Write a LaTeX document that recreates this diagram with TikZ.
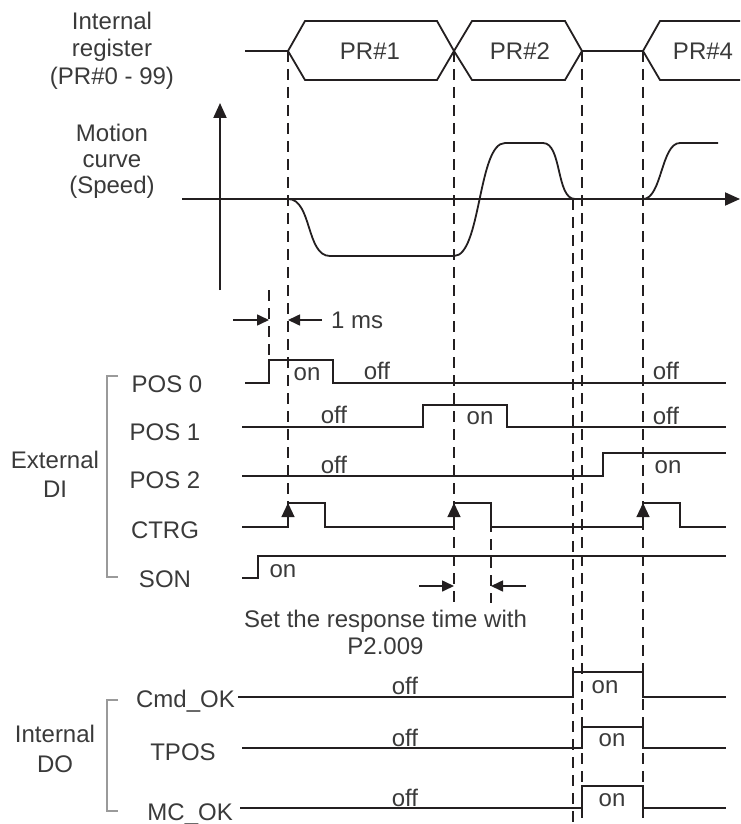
\documentclass[tikz,border=0pt]{standalone}
\usepackage{fontspec}
\setmainfont{Liberation Sans}
\usetikzlibrary{arrows.meta}
\definecolor{ink}{HTML}{231F20}
\definecolor{txt}{HTML}{3A3A3A}
\definecolor{brk}{HTML}{9A9A9A}
\begin{document}
\begin{tikzpicture}[x=1pt,y=-1pt,
  sig/.style={draw=ink,line width=1.8pt,line join=miter},
  dsh/.style={draw=ink,line width=1.6pt,dash pattern=on 11pt off 7pt},
  lbl/.style={text=txt,font=\fontsize{24}{27.6}\selectfont,inner sep=0pt,anchor=base},
  brace/.style={draw=brk,line width=1.4pt},
  axisarrow/.style={draw=ink,line width=2pt,-{Triangle[length=15pt,width=13pt]}},
  dimarrow/.style={draw=ink,line width=1.6pt,-{Triangle[length=12pt,width=11pt]}},
  trig/.style={draw=ink,line width=1.2pt,-{Triangle[length=14pt,width=13pt]}},
]
\useasboundingbox (0,0) rectangle (740,824);

% ---------- left labels ----------
\node[lbl] (ir1) at (112,30) {Internal};
\node[lbl] (ir2) at (112,57) {register};
\node[lbl] (ir3) at (112,85) {(PR\#0 - 99)};
\node[lbl] (mc1) at (112,141) {Motion};
\node[lbl] (mc2) at (112,167) {curve};
\node[lbl] (mc3) at (112,193) {(Speed)};

% ---------- PR bus ----------
\draw[sig] (245,51) -- (288,51);
\draw[sig] (288,51) -- (305,21) -- (437,21) -- (454,51) -- (437,80) -- (305,80) -- cycle;
\draw[sig] (454,51) -- (472,21) -- (565,21) -- (582,51) -- (565,80) -- (472,80) -- cycle;
\draw[sig] (582,51) -- (643,51);
\draw[sig] (740,21) -- (660,21) -- (643,51) -- (660,80) -- (740,80);
\node[lbl] (pr1) at (370,59.5) {PR\#1};
\node[lbl] (pr2) at (520,59.5) {PR\#2};
\node[lbl] (pr4) at (703,59.5) {PR\#4};

% ---------- motion axes and curve ----------
\draw[axisarrow] (220,290) -- (220,103);
\draw[axisarrow] (182,199) -- (740,199);
\draw[sig] (220,199) -- (288,199)
  .. controls (312,199) and (306,256) .. (330,256) -- (454,256)
  .. controls (481,256) and (478,143) .. (505,143) -- (543,143)
  .. controls (562,143) and (556,199) .. (575,199) -- (643,199)
  .. controls (662,199) and (661,143) .. (680,143) -- (718,143);

% ---------- dashed guides ----------
\draw[dsh] (288,51) -- (288,503);
\draw[dsh] (269,290) -- (269,360);
\draw[dsh] (454,51) -- (454,603);
\draw[dsh] (491,503) -- (491,603);
\draw[dsh] (573,199) -- (573,824);
\draw[dsh] (582,51) -- (582,824);
\draw[dsh] (643,51) -- (643,824);

% ---------- 1 ms ----------
\draw[dimarrow] (233,320) -- (269,320);
\draw[dimarrow] (322,320) -- (288,320);
\node[lbl,anchor=base west] (ms) at (331,328) {1 ms};

% ---------- external DI ----------
\draw[brace] (118,376) -- (107,376) -- (107,577) -- (118,577);
\node[lbl] (ext1) at (55,468) {External};
\node[lbl] (ext2) at (55,497) {DI};
\node[lbl] (p0) at (167,392) {POS 0};
\node[lbl] (p1) at (165,440) {POS 1};
\node[lbl] (p2) at (165,488) {POS 2};
\node[lbl] (ctrg) at (165,538) {CTRG};
\node[lbl] (son) at (165,587) {SON};

\draw[sig] (245,383) -- (269,383) -- (269,360) -- (333,360) -- (333,383) -- (726,383);
\draw[sig] (242,427) -- (423,427) -- (423,405) -- (507,405) -- (507,427) -- (726,427);
\draw[sig] (242,476) -- (603,476) -- (603,453) -- (726,453);
\draw[sig] (242,527) -- (288,527) -- (288,503) -- (325,503) -- (325,527) -- (454,527) -- (454,503) -- (491,503) -- (491,527) -- (643,527) -- (643,503) -- (680,503) -- (680,527) -- (726,527);
\draw[sig] (242,578) -- (258,578) -- (258,556) -- (726,556);

\draw[trig] (288,527) -- (288,503);
\draw[trig] (454,527) -- (454,503);
\draw[trig] (643,527) -- (643,503);

\node[lbl] (p0on) at (307,380) {on};
\node[lbl] (p0off) at (377,379) {off};
\node[lbl] (p0off2) at (666,379) {off};
\node[lbl] (p1off) at (334,423) {off};
\node[lbl] (p1on) at (480,424) {on};
\node[lbl] (p1off2) at (666,424) {off};
\node[lbl] (p2off) at (334,473) {off};
\node[lbl] (p2on) at (668,473) {on};
\node[lbl] (sonon) at (283,577) {on};

% ---------- response time ----------
\draw[dimarrow] (419,586) -- (454,586);
\draw[dimarrow] (526,586) -- (491,586);
\node[lbl] (rt1) at (385.5,627) {Set the response time with};
\node[lbl] (rt2) at (385.5,654) {P2.009};

% ---------- internal DO ----------
\draw[brace] (118,700) -- (107,700) -- (107,811) -- (118,811);
\node[lbl] (ido1) at (55,742) {Internal};
\node[lbl] (ido2) at (55,772) {DO};
\node[lbl,anchor=base east] (cmd) at (235,707) {Cmd\_OK};
\node[lbl] (tpos) at (183,760) {TPOS};
\node[lbl,anchor=base east] (mcok) at (233,820) {MC\_OK};

\draw[sig] (238,697) -- (573,697) -- (573,672) -- (643,672) -- (643,697) -- (726,697);
\draw[sig] (242,748) -- (582,748) -- (582,727) -- (643,727) -- (643,748) -- (726,748);
\draw[sig] (240,808) -- (582,808) -- (582,786) -- (643,786) -- (643,808) -- (726,808);

\node[lbl] (cmdoff) at (405,694) {off};
\node[lbl] (cmdon) at (605,693) {on};
\node[lbl] (tposoff) at (405,746) {off};
\node[lbl] (tposon) at (612,746) {on};
\node[lbl] (mcoff) at (405,806) {off};
\node[lbl] (mcon) at (612,806) {on};
\end{tikzpicture}
\end{document}
